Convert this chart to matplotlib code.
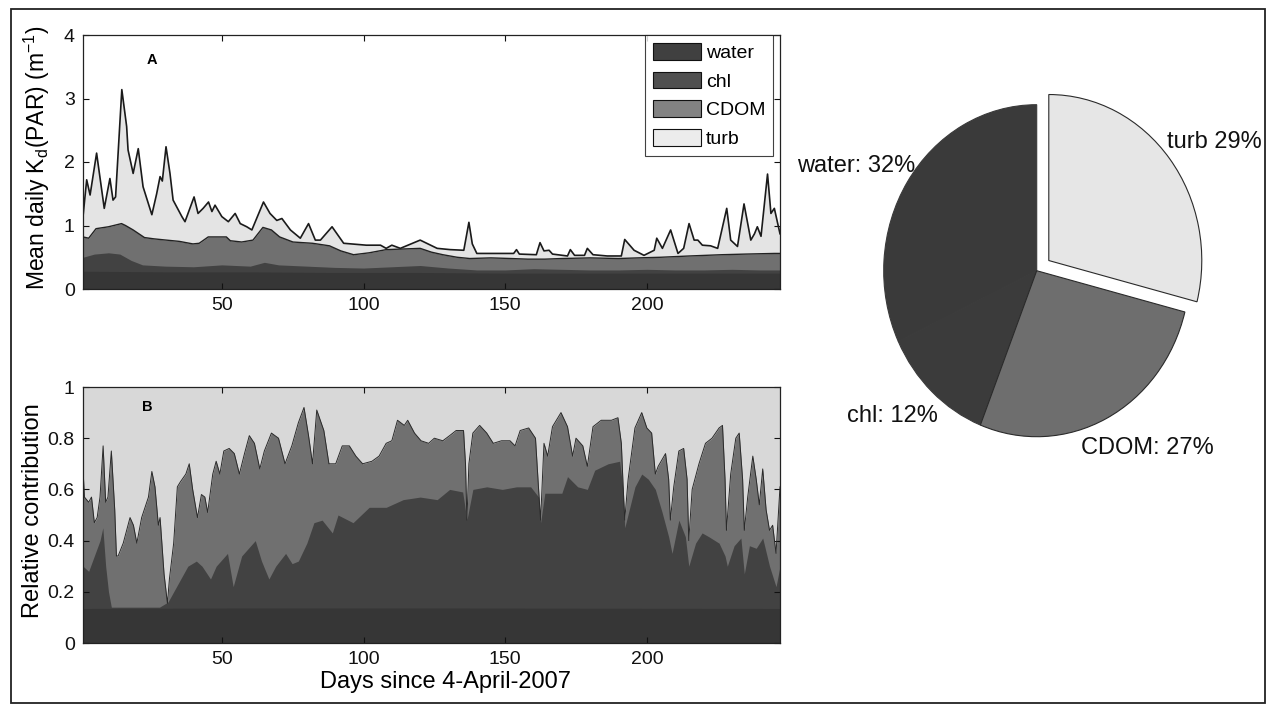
import matplotlib
matplotlib.use('Agg')
import matplotlib.pyplot as plt
from matplotlib.patches import Patch, Rectangle

plt.rcParams['font.family'] = ['Liberation Sans', 'DejaVu Sans']
plt.rcParams['mathtext.fontset'] = 'custom'
plt.rcParams['mathtext.rm'] = 'Liberation Sans'
plt.rcParams['mathtext.it'] = 'Liberation Sans:italic'

# ---------------- data ----------------
components = ['water', 'chl', 'CDOM', 'turb']
pie_shares = [32, 12, 27, 29]
pie_labels = ['water: 32%', 'chl: 12%', 'CDOM: 27%', 'turb 29%']

x_ticks = [50, 100, 150, 200]
a_yticks = [0, 1, 2, 3, 4]
b_yticks = [0, 0.2, 0.4, 0.6, 0.8, 1]
b_ytick_labels = ['0', '0.2', '0.4', '0.6', '0.8', '1']

# Panel A: cumulative K_d(PAR) (m^-1) boundaries
a_total_days = [1, 2.3, 3.5, 5.8, 8.5, 10.5, 11.6, 12.5, 14.7, 16.4, 16.9, 18.7, 20.5, 22.2, 25.3, 27, 28.2, 29,
                30.3, 31.7, 32.8, 35.9, 37, 40.2, 41.6, 43.4, 45.3, 46.5, 47.6, 50, 52.3, 54.7, 56.5, 58.8, 60.6,
                64.7, 67, 69.4, 71.2, 74.2, 77.7, 80.6, 83, 84.8, 88.9, 93, 101, 106, 108, 110, 113, 120, 126,
                130.6, 135.4, 137.2, 138.4, 140, 144.8, 153, 154, 155, 161, 162.3, 163.7, 165.5, 166.7, 172, 173,
                174.5, 178, 179, 181, 186, 191, 192.2, 195.5, 199, 202.6, 203.5, 205.5, 208.4, 211, 213, 214.9,
                216.7, 218, 219.6, 222.5, 225, 228.2, 229.6, 232, 234.3, 236.7, 238, 239, 240.3, 242.6, 243.8,
                245, 246.2, 247]
a_total = [1.14, 1.72, 1.48, 2.14, 1.27, 1.74, 1.40, 1.45, 3.14, 2.56, 2.19, 1.82, 2.21, 1.61, 1.17, 1.50, 1.77, 1.70,
           2.24, 1.82, 1.40, 1.14, 1.06, 1.45, 1.19, 1.27, 1.37, 1.22, 1.32, 1.14, 1.06, 1.19, 1.03, 0.98, 0.93,
           1.37, 1.19, 1.08, 1.11, 0.93, 0.80, 1.03, 0.77, 0.77, 0.98, 0.72, 0.69, 0.69, 0.64, 0.69, 0.64, 0.77, 0.64,
           0.62, 0.61, 1.05, 0.71, 0.56, 0.56, 0.56, 0.62, 0.55, 0.54, 0.73, 0.60, 0.61, 0.55, 0.52, 0.62,
           0.53, 0.53, 0.64, 0.54, 0.52, 0.52, 0.78, 0.61, 0.53, 0.61, 0.80, 0.64, 0.93, 0.56, 0.64, 1.03,
           0.77, 0.77, 0.69, 0.68, 0.64, 1.27, 0.77, 0.67, 1.34, 0.77, 0.87, 0.98, 0.83, 1.81, 1.19,
           1.27, 1.03, 0.87]

a_cdom_days = [1, 3, 5.6, 10, 14.6, 16, 18.7, 22.7, 26, 30.4, 35, 39.8, 42, 45.2, 51.6, 53, 57, 61, 64.5, 67.5,
               70.4, 75.1, 82, 88, 92, 96.5, 102, 108, 114, 120, 124, 128, 133, 137.5, 145, 152, 158, 164, 170,
               180, 190, 197, 205, 215, 226.5, 235, 245, 247]
a_cdom_top = [0.82, 0.80, 0.95, 0.98, 1.03, 1.00, 0.93, 0.81, 0.79, 0.77, 0.75, 0.71, 0.72, 0.82, 0.82, 0.76, 0.74,
              0.77, 0.97, 0.93, 0.82, 0.74, 0.72, 0.68, 0.60, 0.54, 0.57, 0.62, 0.63, 0.64, 0.58, 0.54, 0.50, 0.48,
              0.49, 0.48, 0.47, 0.47, 0.48, 0.49, 0.48, 0.49, 0.50, 0.52, 0.54, 0.55, 0.56, 0.56]

a_chl_days = [1, 5, 10, 14, 18, 22, 30, 40, 50, 60, 65, 70, 80, 90, 100, 110, 120, 130, 140, 150, 160, 170,
              180, 190, 200, 210, 220, 230, 240, 247]
a_chl_top = [0.50, 0.55, 0.57, 0.55, 0.45, 0.38, 0.36, 0.35, 0.38, 0.36, 0.42, 0.38, 0.36, 0.34, 0.33, 0.35,
             0.37, 0.33, 0.30, 0.30, 0.32, 0.31, 0.30, 0.30, 0.31, 0.30, 0.30, 0.31, 0.30, 0.30]

a_water_days = [1, 30, 60, 90, 120, 150, 180, 210, 247]
a_water_top = [0.28, 0.27, 0.27, 0.26, 0.26, 0.25, 0.25, 0.25, 0.25]

# Panel B: cumulative relative contribution boundaries
b_cdom_days = [1, 1.5, 3, 4, 5, 6, 7, 8.1, 9, 9.8, 11, 12.2, 12.8, 13.4, 15.2, 17.6, 18.8, 20, 21.7, 24.1, 25.3,
               26.4, 27.6, 28.2, 29.6, 30.8, 31.5, 33, 34.3, 35.4, 37.3, 38.5, 39.7, 41.4, 42.8, 44, 45, 46.8, 48,
               49.3, 50.7, 52.6, 54.4, 56.2, 58, 59.7, 61.5, 63.4, 65, 67.5, 70, 72.3, 74.7, 77, 79, 80.6, 82,
               83.5, 86, 87.8, 90.2, 92.5, 95, 97.3, 99.7, 103, 105.5, 108, 110, 112, 114.4, 115.6, 118, 120.3,
               123, 125, 128, 130.4, 132.7, 135.3, 136, 136.5, 137.2, 138.6, 141, 143.5, 145.8, 148.7, 151.7,
               153.5, 155.3, 158.3, 160.7, 161.8, 162.5, 163.7, 165, 166.7, 169.7, 172, 173.8, 175, 177.4, 179,
               181, 183.9, 187.5, 189.8, 191, 191.6, 192.2, 193.4, 195.8, 198.2, 200, 201.7, 203, 204, 206.6,
               207.7, 208.3, 209.5, 211.3, 213, 214.2, 214.8, 216, 218.4, 220.7, 223, 225.5, 226.7, 227.6, 228.1,
               229.6, 231.4, 232.6, 233.8, 234.4, 235.6, 237.4, 238.6, 239.7, 240.9, 242.1, 243.3, 244.4, 245.6, 247]
b_cdom_top = [0.68, 0.57, 0.55, 0.57, 0.47, 0.49, 0.57, 0.77, 0.55, 0.57, 0.75, 0.52, 0.34, 0.34, 0.39, 0.49, 0.46,
              0.39, 0.49, 0.57, 0.67, 0.61, 0.46, 0.49, 0.27, 0.155, 0.25, 0.39, 0.61, 0.63, 0.66, 0.70, 0.60, 0.49,
              0.58, 0.57, 0.51, 0.66, 0.71, 0.66, 0.75, 0.76, 0.74, 0.66, 0.74, 0.81, 0.78, 0.68, 0.75, 0.82, 0.80,
              0.70, 0.77, 0.86, 0.92, 0.81, 0.70, 0.91, 0.83, 0.70, 0.70, 0.77, 0.77, 0.73, 0.70, 0.71, 0.73, 0.78,
              0.79, 0.87, 0.85, 0.87, 0.82, 0.79, 0.78, 0.80, 0.79, 0.81, 0.83, 0.83, 0.70, 0.48, 0.70, 0.82, 0.85,
              0.82, 0.78, 0.79, 0.79, 0.77, 0.83, 0.84, 0.80, 0.60, 0.48, 0.78, 0.73, 0.845, 0.90, 0.845, 0.73,
              0.80, 0.77, 0.69, 0.845, 0.87, 0.87, 0.88, 0.78, 0.62, 0.48, 0.64, 0.84, 0.90, 0.84, 0.82, 0.66,
              0.69, 0.74, 0.64, 0.48, 0.61, 0.75, 0.76, 0.64, 0.40, 0.60, 0.70, 0.78, 0.80, 0.84, 0.85, 0.64, 0.44,
              0.66, 0.80, 0.82, 0.64, 0.44, 0.57, 0.73, 0.64, 0.54, 0.68, 0.52, 0.44, 0.46, 0.35, 0.61]

b_chl_days = [1, 3, 5, 7, 8, 9, 10, 11, 20, 28, 31, 34, 38, 41, 43, 46, 48, 52, 54, 57, 61.8, 64, 66.6, 69, 72.5,
              74.8, 77, 80, 82.5, 85.4, 89, 91, 96.3, 102, 108, 114, 120, 126, 130.4, 135, 136.5, 138.6, 143.5,
              149, 154, 159, 161.8, 162.5, 164, 170, 172, 175.6, 179, 181.6, 186.3, 190.4, 191.6, 192.2, 194,
              195.8, 198.2, 200.5, 203, 205.4, 207.7, 208.9, 211.3, 213.6, 214.8, 217.2, 219.5, 221.9, 225.5,
              227.6, 228.4, 230.8, 233.2, 234.4, 236.2, 238.6, 240.9, 243.3, 245.6, 247]
b_chl_top = [0.30, 0.28, 0.34, 0.40, 0.45, 0.30, 0.20, 0.14, 0.14, 0.14, 0.16, 0.22, 0.30, 0.32, 0.30, 0.25, 0.30,
             0.35, 0.22, 0.34, 0.40, 0.32, 0.25, 0.30, 0.35, 0.31, 0.32, 0.39, 0.47, 0.48, 0.43, 0.50, 0.47, 0.53,
             0.53, 0.56, 0.57, 0.56, 0.60, 0.59, 0.48, 0.60, 0.61, 0.60, 0.61, 0.61, 0.57, 0.47, 0.585, 0.585,
             0.65, 0.61, 0.60, 0.675, 0.70, 0.71, 0.60, 0.45, 0.53, 0.61, 0.66, 0.64, 0.60, 0.51, 0.415, 0.35,
             0.48, 0.415, 0.30, 0.39, 0.43, 0.415, 0.39, 0.34, 0.30, 0.38, 0.41, 0.27, 0.38, 0.37, 0.41, 0.30,
             0.22, 0.30]

b_water_days = [1, 60, 120, 180, 247]
b_water_top = [0.135, 0.137, 0.137, 0.136, 0.135]

# ---------------- style ----------------
water_c = '#363636'
chl_c = '#424242'
cdom_c = '#707070'
turb_a_c = '#e4e4e4'
turb_b_c = '#d8d8d8'
pie_colors = ['#3a3a3a', '#3b3b3b', '#6e6e6e', '#e6e6e6']
pie_edges = ['#3a3a3a', '#3b3b3b', '#2a2a2a', '#2a2a2a']
legend_colors = ['#404040', '#505050', '#828282', '#ececec']

W, H = 1268, 711
fig = plt.figure(figsize=(W / 100, H / 100), dpi=100)
fig.patch.set_facecolor('white')


def style_axes(ax):
    ax.tick_params(direction='in', top=True, right=True, length=4, width=0.8,
                   labelsize=14, pad=6, colors='#111111')
    for s in ax.spines.values():
        s.set_linewidth(0.9)
        s.set_color('#222222')
    ax.set_xlim(1, 247)
    ax.set_xticks(x_ticks)


# Panel A
axA = fig.add_axes([83 / W, 1 - 289 / H, 697 / W, 254 / H])
axA.fill_between(a_total_days, 0, a_total, color=turb_a_c, lw=0)
axA.fill_between(a_cdom_days, 0, a_cdom_top, color=cdom_c, lw=0)
axA.fill_between(a_chl_days, 0, a_chl_top, color=chl_c, lw=0)
axA.fill_between(a_water_days, 0, a_water_top, color=water_c, lw=0)
axA.plot(a_total_days, a_total, color='#1a1a1a', lw=1.2)
axA.plot(a_cdom_days, a_cdom_top, color='#222222', lw=1.0)
axA.set_ylim(0, 4)
axA.set_yticks(a_yticks)
style_axes(axA)
axA.text(0.099, 0.90, 'A', transform=axA.transAxes, fontsize=10.5, fontweight='bold',
         ha='center', va='center')
handles = [Patch(facecolor=c, edgecolor='#111111', lw=0.8, label=n)
           for c, n in zip(legend_colors, components)]
leg = axA.legend(handles=handles, loc='upper right', bbox_to_anchor=(1 - 7 / 697, 1.0),
                 borderaxespad=0, fontsize=14, frameon=True, fancybox=False,
                 handlelength=2.45, handleheight=0.95, labelspacing=0.5,
                 handletextpad=0.25, borderpad=0.4)
leg.get_frame().set_edgecolor('#111111')
leg.get_frame().set_linewidth(0.8)

# Panel B
axB = fig.add_axes([83 / W, 1 - 643 / H, 697 / W, 256 / H])
axB.set_facecolor(turb_b_c)
axB.fill_between(b_cdom_days, 0, b_cdom_top, color=cdom_c, lw=0)
axB.fill_between(b_chl_days, 0, b_chl_top, color=chl_c, lw=0)
axB.fill_between(b_water_days, 0, b_water_top, color=water_c, lw=0)
axB.plot(b_cdom_days, b_cdom_top, color='#2a2a2a', lw=0.7)
axB.set_ylim(0, 1)
axB.set_yticks(b_yticks)
axB.set_yticklabels(b_ytick_labels)
style_axes(axB)
axB.text(0.0925, 0.922, 'B', transform=axB.transAxes, fontsize=10.5, fontweight='bold',
         ha='center', va='center')

# axis labels
fig.text(37 / W, 1 - 158 / H, r'Mean daily K$_\mathregular{d}$(PAR) (m$^\mathregular{-1}$)',
         rotation=90, ha='center', va='center', fontsize=16.5)
fig.text(33 / W, 1 - 511 / H, 'Relative contribution', rotation=90, ha='center', va='center',
         fontsize=17)
fig.text(446 / W, 1 - 682 / H, 'Days since 4-April-2007', ha='center', va='center', fontsize=17)

# Pie
cx, cy, rx, ry = 1036.7, 270.7, 153, 166
lim = 1.25
axP = fig.add_axes([(cx - lim * rx) / W, 1 - (cy + lim * ry) / H, 2 * lim * rx / W, 2 * lim * ry / H])
wedges, _ = axP.pie(pie_shares, colors=pie_colors, startangle=90, counterclock=True,
                    explode=[0, 0, 0, 0.1],
                    wedgeprops=dict(linewidth=0.8))
for w, ec in zip(wedges, pie_edges):
    w.set_edgecolor(ec)
axP.set_aspect('auto')
axP.set_xlim(-lim, lim)
axP.set_ylim(-lim, lim)
axP.axis('off')
label_pos = [(-1.181, 0.631), (-0.946, -0.875), (0.721, -1.070), (1.159, 0.775)]
for (lx, ly), lab in zip(label_pos, pie_labels):
    axP.text(lx, ly, lab, ha='center', va='center', fontsize=17, color='#111111')

# outer frame
fig.add_artist(Rectangle((11 / W, 1 - 703 / H), 1254 / W, 694 / H, transform=fig.transFigure,
                         fill=False, edgecolor='#222222', lw=1.3))

fig.savefig('out.png', dpi=100, facecolor='white')
